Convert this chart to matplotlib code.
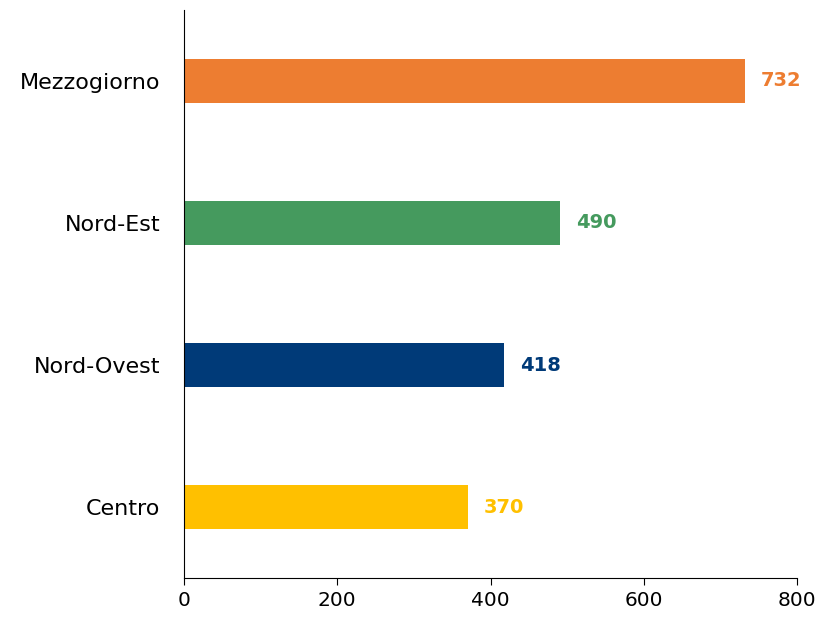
import matplotlib
matplotlib.use("Agg")
import matplotlib.pyplot as plt

categories = ["Centro", "Nord-Ovest", "Nord-Est", "Mezzogiorno"]
values = [370, 418, 490, 732]
colors = ["#FFC000", "#003A78", "#459A5E", "#ED7D31"]
xticks = [0, 200, 400, 600, 800]

plt.rcParams['font.family'] = ['DejaVu Sans']

fig = plt.figure(figsize=(8.21, 6.19), dpi=100)
ax = fig.add_axes([0.224, 0.066, 0.747, 0.918])

ypos = list(range(len(categories)))
ax.barh(ypos, values, height=0.31, color=colors)
for y, v, c in zip(ypos, values, colors):
    ax.text(v + 21, y, str(v), va='center', ha='left', fontsize=14,
            fontweight='bold', color=c)

ax.set_xlim(0, 800)
ax.set_ylim(-0.5, 3.5)
ax.set_yticks(ypos)
ax.set_yticklabels(categories, fontsize=16)
ax.set_xticks(xticks)
ax.set_xticklabels([str(t) for t in xticks], fontsize=14.5)
ax.tick_params(axis='y', length=0, pad=17)
ax.tick_params(axis='x', length=5, direction='out', pad=4)
for s in ['top', 'right']:
    ax.spines[s].set_visible(False)
ax.spines['left'].set_color('black')
ax.spines['bottom'].set_color('black')

fig.savefig("out.png", dpi=100)
